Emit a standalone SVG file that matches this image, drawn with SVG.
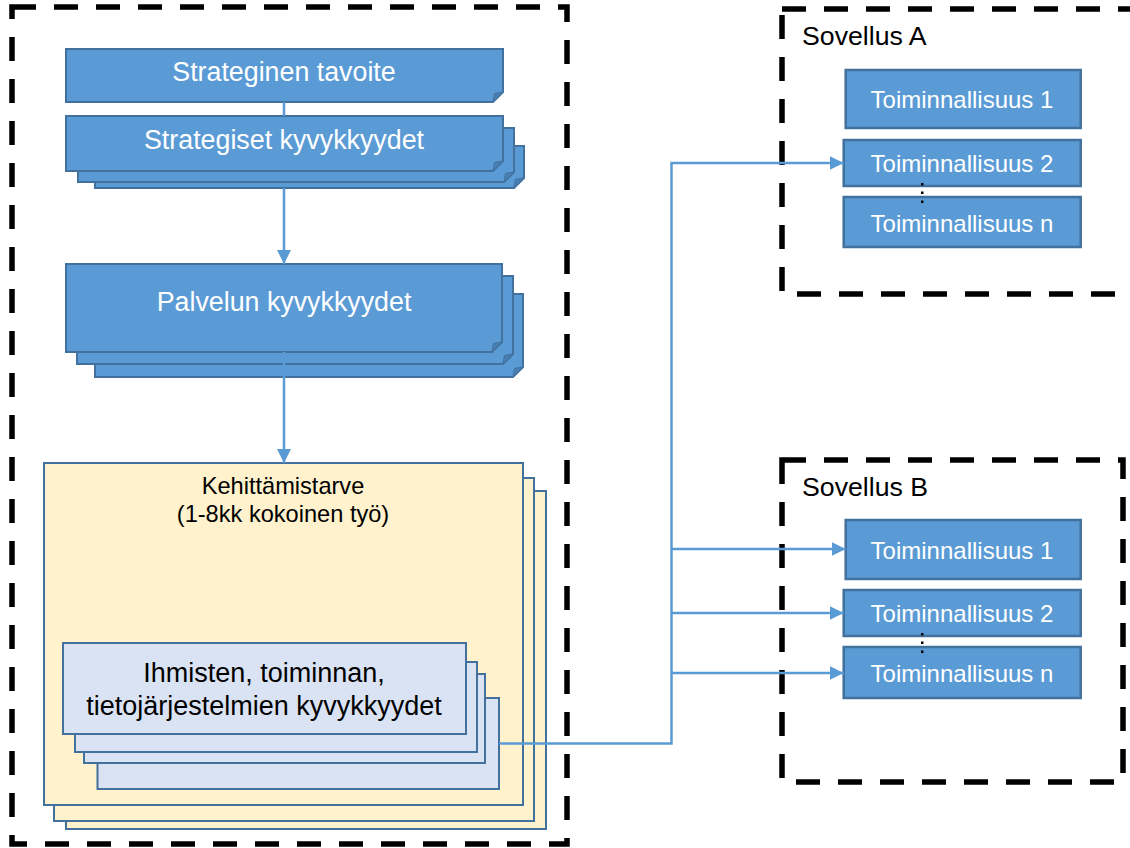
<svg xmlns="http://www.w3.org/2000/svg" width="1130" height="848" viewBox="0 0 1130 848">
<defs>
<style>
.frame{fill:none;stroke:#000;stroke-width:5.5;stroke-dasharray:24 18}
.doc{fill:#5B9BD5;stroke:#41719C;stroke-width:2}
.fold{fill:#4A7FB3;stroke:#41719C;stroke-width:1}
.yel{fill:#FFF2CC;stroke:#41719C;stroke-width:2}
.lb{fill:#DAE3F3;stroke:#41719C;stroke-width:2}
.fn{fill:#5B9BD5;stroke:#41719C;stroke-width:2.5}
.conn{fill:none;stroke:#5B9BD5;stroke-width:2.5}
text{font-family:"Liberation Sans",Arial,sans-serif}
.w{fill:#fff;text-anchor:middle}
.k{fill:#000}
.c{text-anchor:middle}
.dot{fill:#000}
</style>
<marker id="arr" viewBox="0 0 14 14" refX="14" refY="7" markerWidth="14" markerHeight="14" markerUnits="userSpaceOnUse" orient="auto">
<path d="M0,0 L14,7 L0,14 Z" fill="#5B9BD5"/>
</marker>
</defs>

<g id="frame-left"><rect class="frame" x="12" y="7" width="555" height="837"/></g>
<g id="frame-a"><rect class="frame" x="782" y="9" width="360" height="285"/>
<text class="k" x="802" y="45" font-size="26.7">Sovellus A</text></g>
<g id="frame-b"><rect class="frame" x="782" y="460" width="341" height="322"/>
<text class="k" x="802" y="496" font-size="26.7">Sovellus B</text></g>

<g id="strateginen-tavoite">
<path class="doc" d="M66,49 H503 V92 L493,102 H66 Z"/>
<path class="fold" d="M493,102 L503,92 L494.5,93.5 Z"/>
<text class="w" x="284" y="81" font-size="26.8">Strateginen tavoite</text>
</g>

<g id="strategiset-kyvykkyydet">
<path class="doc" d="M95,146 H524 V178 L514,188 H95 Z"/>
<path class="fold" d="M514,188 L524,178 L515.5,179.5 Z"/>
<path class="doc" d="M78,128 H514 V172 L504,182 H78 Z"/>
<path class="fold" d="M504,182 L514,172 L505.5,173.5 Z"/>
<path class="doc" d="M66,116 H503 V161 L493,171 H66 Z"/>
<path class="fold" d="M493,171 L503,161 L494.5,162.5 Z"/>
<text class="w" x="284" y="149" font-size="26.8">Strategiset kyvykkyydet</text>
</g>

<g id="palvelun-kyvykkyydet">
<path class="doc" d="M95,294 H523 V367 L513,377 H95 Z"/>
<path class="fold" d="M513,377 L523,367 L514.5,368.5 Z"/>
<path class="doc" d="M77,276 H513 V354 L503,364 H77 Z"/>
<path class="fold" d="M503,364 L513,354 L504.5,355.5 Z"/>
<path class="doc" d="M66,264 H502 V342 L492,352 H66 Z"/>
<path class="fold" d="M492,352 L502,342 L493.5,343.5 Z"/>
<text class="w" x="284" y="311" font-size="26.8">Palvelun kyvykkyydet</text>
</g>

<g id="kehittamistarve">
<rect class="yel" x="66" y="491" width="480" height="338"/>
<rect class="yel" x="54" y="478" width="480" height="343"/>
<rect class="yel" x="44" y="463" width="479" height="342"/>
<text class="k c" x="283" y="494" font-size="23.6">Kehittämistarve</text>
<text class="k c" x="283" y="522" font-size="23.6">(1-8kk kokoinen työ)</text>
</g>

<g id="kyvykkyydet">
<rect class="lb" x="97.5" y="698" width="401.5" height="91"/>
<rect class="lb" x="84" y="674" width="401" height="89"/>
<rect class="lb" x="75" y="662" width="402" height="90"/>
<rect class="lb" x="63" y="643" width="403" height="91"/>
<text class="k c" x="264" y="682" font-size="27">Ihmisten, toiminnan,</text>
<text class="k c" x="264" y="715" font-size="27">tietojärjestelmien kyvykkyydet</text>
</g>

<g id="a-t1"><rect class="fn" x="845.7" y="70" width="235" height="58"/>
<text class="w" x="962" y="108" font-size="24">Toiminnallisuus 1</text></g>
<g id="a-t2"><rect class="fn" x="843.7" y="140" width="237" height="46"/>
<text class="w" x="962" y="171.5" font-size="24">Toiminnallisuus 2</text></g>
<g id="a-tn"><rect class="fn" x="843.7" y="197" width="237" height="50"/>
<text class="w" x="962" y="231.5" font-size="24">Toiminnallisuus n</text></g>
<g id="a-dots"><rect class="dot" x="921" y="183" width="2.5" height="2.5"/><rect class="dot" x="921" y="191.5" width="2.5" height="2.5"/><rect class="dot" x="921" y="200.5" width="2.5" height="2.5"/></g>

<g id="b-t1"><rect class="fn" x="845.7" y="520" width="235" height="59"/>
<text class="w" x="962" y="559" font-size="24">Toiminnallisuus 1</text></g>
<g id="b-t2"><rect class="fn" x="843.7" y="590" width="237" height="46"/>
<text class="w" x="962" y="622" font-size="24">Toiminnallisuus 2</text></g>
<g id="b-tn"><rect class="fn" x="843.7" y="647" width="237" height="51"/>
<text class="w" x="962" y="682" font-size="24">Toiminnallisuus n</text></g>
<g id="b-dots"><rect class="dot" x="921" y="633" width="2.5" height="2.5"/><rect class="dot" x="921" y="641.5" width="2.5" height="2.5"/><rect class="dot" x="921" y="650.5" width="2.5" height="2.5"/></g>

<g id="connectors">
<line class="conn" x1="284" y1="102" x2="284" y2="116"/>
<line class="conn" x1="284" y1="188" x2="284" y2="264" marker-end="url(#arr)"/>
<line class="conn" x1="284" y1="352" x2="284" y2="463" marker-end="url(#arr)"/>
<polyline class="conn" points="499,743.5 671.5,743.5 671.5,163 843.7,163" marker-end="url(#arr)"/>
<line class="conn" x1="671.5" y1="549" x2="845.7" y2="549" marker-end="url(#arr)"/>
<line class="conn" x1="671.5" y1="613" x2="843.7" y2="613" marker-end="url(#arr)"/>
<line class="conn" x1="671.5" y1="673" x2="843.7" y2="673" marker-end="url(#arr)"/>
</g>
</svg>
